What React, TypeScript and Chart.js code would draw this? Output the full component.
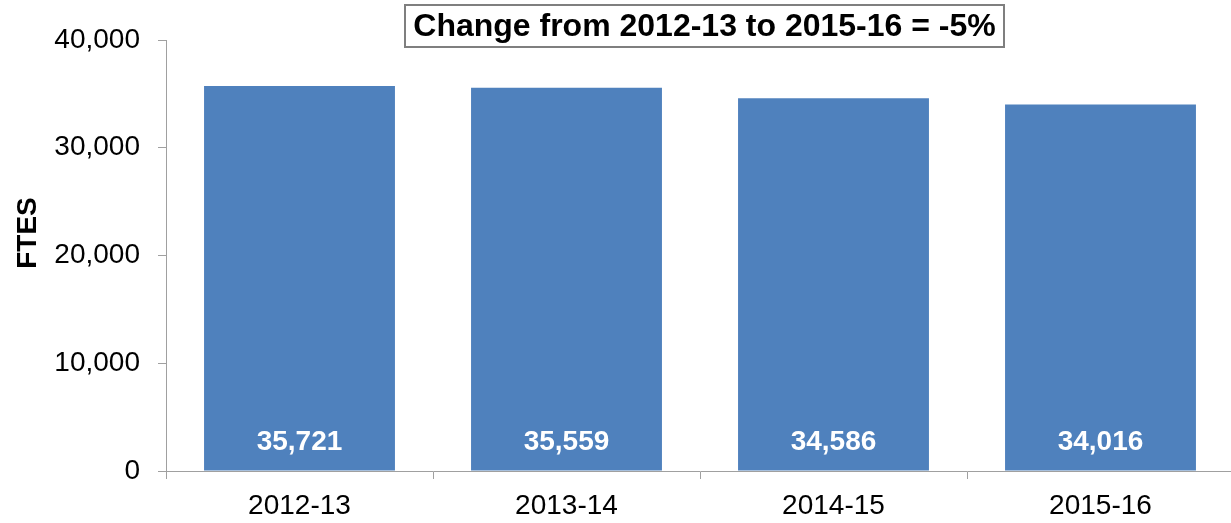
import React, { useEffect, useRef } from "react";
import { Chart, registerables } from "chart.js";

Chart.register(...registerables);

const categories = ["2012-13", "2013-14", "2014-15", "2015-16"];
const ftesValues = [35721, 35559, 34586, 34016];
const yTickValues = [0, 10000, 20000, 30000, 40000];
const titleText = "Change from 2012-13 to 2015-16 = -5%";
const yAxisTitle = "FTES";

const FONT = "'Liberation Sans', Arial, sans-serif";
const AXIS_GRAY = "#A0A0A0";
const BAR_BLUE = "#4F81BD";

const fmt = (v: number) => v.toLocaleString("en-US");

export default function App() {
  const canvasRef = useRef<HTMLCanvasElement | null>(null);

  useEffect(() => {
    const canvas = canvasRef.current;
    if (!canvas) return;

    const overlay = {
      id: "overlay",
      afterDatasetsDraw(chart: any) {
        const ctx = chart.ctx;
        const meta = chart.getDatasetMeta(0);
        ctx.save();
        ctx.fillStyle = "#FFFFFF";
        ctx.font = `bold 28px ${FONT}`;
        ctx.textAlign = "center";
        ctx.textBaseline = "middle";
        meta.data.forEach((bar: any, i: number) => {
          ctx.fillText(fmt(ftesValues[i]), bar.x, bar.base - 28);
        });
        ctx.restore();
      },
      afterDraw(chart: any) {
        const ctx = chart.ctx;
        ctx.save();
        // title box
        const cx = 704.5;
        const boxW = 599;
        const boxTop = 5;
        const boxH = 42;
        ctx.fillStyle = "#FFFFFF";
        ctx.fillRect(cx - boxW / 2, boxTop, boxW, boxH);
        ctx.strokeStyle = "#7F7F7F";
        ctx.lineWidth = 2;
        ctx.strokeRect(cx - boxW / 2, boxTop, boxW, boxH);
        ctx.fillStyle = "#000000";
        ctx.font = `bold 32px ${FONT}`;
        ctx.textAlign = "center";
        ctx.textBaseline = "middle";
        ctx.fillText(titleText, cx, boxTop + boxH / 2 + 1);
        // y axis title
        ctx.translate(28, 233);
        ctx.rotate(-Math.PI / 2);
        ctx.font = `bold 28px ${FONT}`;
        ctx.fillText(yAxisTitle, 0, 0);
        ctx.restore();
      },
    };

    const chart = new Chart(canvas, {
      type: "bar",
      data: {
        labels: categories,
        datasets: [
          {
            label: yAxisTitle,
            data: ftesValues,
            backgroundColor: BAR_BLUE,
            borderWidth: 0,
            categoryPercentage: 1,
            barPercentage: 0.715,
          },
        ],
      },
      options: {
        responsive: false,
        animation: false,
        layout: { padding: { top: 40, left: 0, right: 0, bottom: 0 } },
        plugins: {
          legend: { display: false },
          tooltip: { enabled: false },
          title: { display: false },
        },
        scales: {
          x: {
            offset: true,
            grid: {
              display: true,
              offset: true,
              drawOnChartArea: false,
              drawTicks: true,
              tickLength: 8,
              color: AXIS_GRAY,
            },
            border: { display: true, color: AXIS_GRAY },
            ticks: {
              color: "#000000",
              font: { family: FONT, size: 28 },
              padding: 10,
              maxRotation: 0,
            },
            afterFit: (scale: any) => {
              scale.height = 52;
            },
          },
          y: {
            min: 0,
            max: 40000,
            afterBuildTicks: (scale: any) => {
              scale.ticks = yTickValues.map((v) => ({ value: v }));
            },
            grid: {
              display: true,
              drawOnChartArea: false,
              drawTicks: true,
              tickLength: 8,
              color: AXIS_GRAY,
            },
            border: { display: true, color: AXIS_GRAY },
            ticks: {
              color: "#000000",
              font: { family: FONT, size: 28 },
              padding: 18,
              callback: (v: any) => fmt(Number(v)),
            },
            afterFit: (scale: any) => {
              scale.width = 166;
            },
          },
        },
      },
      plugins: [overlay],
    });

    return () => chart.destroy();
  }, []);

  return (
    <div
      style={{
        position: "fixed",
        left: 0,
        top: 0,
        width: 1231,
        height: 523,
        overflow: "hidden",
        background: "#FFFFFF",
      }}
    >
      <canvas ref={canvasRef} width={1234} height={523} style={{ display: "block" }} />
    </div>
  );
}
